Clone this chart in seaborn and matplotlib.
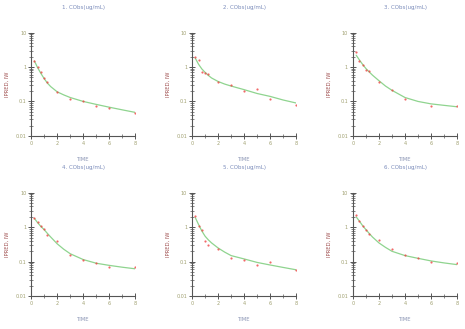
import numpy as np
import pandas as pd
import matplotlib
matplotlib.use("Agg")
import matplotlib.pyplot as plt
import matplotlib.ticker as mticker
import seaborn as sns

obs_time = [0.25, 0.5, 0.75, 1.0, 1.25, 2.0, 3.0, 4.0, 5.0, 6.0, 8.0]
obs_1 = [1.5, 1.0, 0.73, 0.47, 0.37, 0.19, 0.12, 0.10, 0.076, 0.066, 0.047]
obs_2 = [2.0, 1.6, 0.70, 0.68, 0.63, 0.37, 0.31, 0.20, 0.23, 0.12, 0.078]
obs_3 = [2.7, 1.5, 1.15, 0.80, 0.77, 0.37, 0.21, 0.115, np.nan, 0.076, 0.076]
obs_4 = [1.9, 1.46, 1.05, 0.90, 0.60, 0.40, 0.16, 0.11, 0.093, 0.068, 0.068]
obs_5 = [2.1, 1.07, 0.82, 0.39, 0.30, 0.23, 0.13, 0.115, 0.08, 0.098, 0.059]
obs_6 = [2.3, 1.5, 1.07, 0.84, 0.65, 0.42, 0.23, 0.16, 0.13, 0.10, 0.089]

# fitted curves
fit_time = [0.25, 0.5, 0.75, 1.0, 1.25, 1.5, 2.0, 2.5, 3.0, 4.0, 5.0, 6.0, 7.0, 8.0]
fit_1 = [1.5, 0.95, 0.65, 0.46, 0.34, 0.27, 0.19, 0.155, 0.13, 0.10, 0.082, 0.068, 0.057, 0.048]
fit_2 = [1.8, 1.2, 0.88, 0.70, 0.57, 0.48, 0.38, 0.32, 0.28, 0.22, 0.17, 0.14, 0.11, 0.09]
fit_3 = [2.2, 1.6, 1.18, 0.90, 0.72, 0.58, 0.40, 0.28, 0.21, 0.13, 0.10, 0.085, 0.077, 0.07]
fit_4 = [1.8, 1.35, 1.05, 0.85, 0.66, 0.52, 0.33, 0.23, 0.17, 0.115, 0.09, 0.078, 0.069, 0.062]
fit_5 = [1.9, 1.2, 0.78, 0.55, 0.43, 0.35, 0.25, 0.19, 0.15, 0.12, 0.095, 0.08, 0.068, 0.058]
fit_6 = [2.0, 1.5, 1.1, 0.85, 0.66, 0.52, 0.35, 0.26, 0.20, 0.15, 0.125, 0.105, 0.092, 0.082]

titles = ["1. CObs(ug/mL)", "2. CObs(ug/mL)", "3. CObs(ug/mL)",
          "4. CObs(ug/mL)", "5. CObs(ug/mL)", "6. CObs(ug/mL)"]
obs_all = [obs_1, obs_2, obs_3, obs_4, obs_5, obs_6]
fit_all = [fit_1, fit_2, fit_3, fit_4, fit_5, fit_6]

sns.set_style("ticks")
plt.rcParams['font.family'] = ['DejaVu Sans']

fig = plt.figure(figsize=(4.65, 3.29), dpi=100)

lefts = [0.067, 0.413, 0.759]
bottoms = [0.587, 0.100]
w, h = 0.224, 0.314

title_col = "#7b8cbb"
tick_col = "#a0a070"
ylab_col = "#a05050"
xlab_col = "#8a94b4"
spine_col = "#555555"

for i in range(6):
    r, c = divmod(i, 3)
    ax = fig.add_axes([lefts[c], bottoms[r], w, h])
    df_obs = pd.DataFrame({"TIME": obs_time, "val": obs_all[i]}).dropna()
    df_fit = pd.DataFrame({"TIME": fit_time, "val": fit_all[i]})
    sns.lineplot(data=df_fit, x="TIME", y="val", ax=ax, color="#8fd48f", lw=0.9)
    sns.scatterplot(data=df_obs, x="TIME", y="val", ax=ax, color="#ee4444",
                    s=2.5, linewidth=0, alpha=0.8, zorder=3)
    ax.set_yscale("log")
    ax.set_ylim(0.01, 10)
    ax.set_xlim(0, 8)
    ax.xaxis.set_major_locator(mticker.FixedLocator([0, 2, 4, 6, 8]))
    ax.xaxis.set_minor_locator(mticker.FixedLocator([1, 3, 5, 7]))
    ax.yaxis.set_major_locator(mticker.FixedLocator([0.01, 0.1, 1, 10]))
    ax.yaxis.set_major_formatter(mticker.FixedFormatter(["0.01", "0.1", "1", "10"]))
    ax.yaxis.set_minor_locator(mticker.LogLocator(base=10, subs=np.arange(2, 10),
                                                  numticks=100))
    ax.yaxis.set_minor_formatter(mticker.NullFormatter())
    for s in ["top", "right"]:
        ax.spines[s].set_visible(False)
    for s in ["left", "bottom"]:
        ax.spines[s].set_color(spine_col)
        ax.spines[s].set_linewidth(0.8)
    ax.tick_params(which="both", left=True, bottom=True, top=False, right=False)
    ax.tick_params(which="major", direction="inout", length=4, width=0.7,
                   color=spine_col, labelsize=3.5, labelcolor=tick_col, pad=1.5)
    ax.tick_params(which="minor", direction="inout", length=2.5, width=0.5,
                   color=spine_col)
    ax.set_title(titles[i], fontsize=4, color=title_col, pad=17)
    ax.set_xlabel("TIME", fontsize=3.8, color=xlab_col, labelpad=8)
    ax.set_ylabel("IPRED, IW", fontsize=3.8, color=ylab_col, labelpad=4)

fig.savefig("out.png", dpi=100)
